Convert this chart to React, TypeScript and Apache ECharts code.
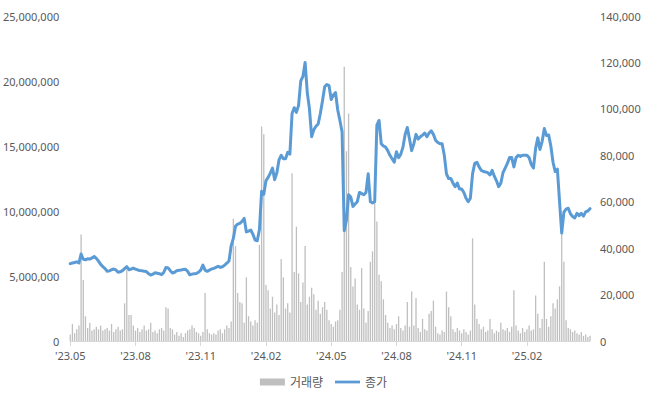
import React, { useEffect, useRef } from "react";
import * as echarts from "echarts";

// Monthly buckets, 10 samples per month (May 2023 – Apr 2025)
const months = [
  "23.05", "23.06", "23.07", "23.08", "23.09", "23.10", "23.11", "23.12",
  "24.01", "24.02", "24.03", "24.04", "24.05", "24.06", "24.07", "24.08",
  "24.09", "24.10", "24.11", "24.12", "25.01", "25.02", "25.03", "25.04",
];
const POINTS_PER_MONTH = 10;
const labelMonths = ["23.05", "23.08", "23.11", "24.02", "24.05", "24.08", "24.11", "25.02"];

// 종가 (closing price), thousands of won
const closeK = [
  33.3, 33.6, 33.8, 34.1, 33.6, 37.5, 35.2, 35.0, 35.4, 35.3,
  35.8, 36.4, 35.6, 34.4, 33.0, 32.0, 31.2, 30.0, 30.2, 30.7,
  31.0, 30.6, 29.6, 29.8, 30.3, 31.2, 32.0, 30.7, 31.0, 31.4,
  31.0, 30.6, 30.4, 30.3, 30.0, 29.9, 29.0, 28.4, 28.8, 29.4,
  29.2, 29.0, 28.6, 29.5, 31.7, 31.5, 30.3, 29.3, 29.6, 30.3,
  30.5, 30.6, 30.8, 30.9, 30.0, 28.5, 28.8, 29.0, 29.1, 29.6,
  30.5, 32.7, 30.5, 30.0, 30.5, 31.0, 31.3, 31.7, 32.2, 31.7,
  32.0, 32.7, 33.5, 34.5, 41.0, 44.2, 49.5, 50.3, 50.7, 51.5,
  52.8, 47.0, 47.3, 47.8, 46.0, 43.5, 43.2, 48.0, 64.5, 63.2,
  69.0, 70.5, 72.3, 74.5, 69.5, 72.5, 78.0, 80.0, 78.5, 78.5,
  81.3, 80.5, 98.0, 100.5, 98.5, 101.5, 112.0, 114.0, 120.0, 107.0,
  100.0, 88.0, 91.0, 92.5, 93.5, 98.0, 103.5, 109.5, 110.5, 110.0,
  104.0, 106.0, 107.0, 99.5, 95.0, 90.0, 47.5, 52.0, 63.0, 62.0,
  58.0, 59.0, 60.0, 64.0, 63.5, 63.0, 64.0, 72.0, 60.0, 59.5,
  60.0, 93.0, 95.0, 85.0, 84.0, 83.5, 82.0, 80.0, 78.5, 77.0,
  81.5, 79.0, 80.5, 83.5, 89.0, 92.0, 87.0, 82.0, 85.0, 89.0,
  87.0, 88.0, 88.7, 89.6, 88.0, 89.6, 90.5, 89.0, 86.5, 85.5,
  85.0, 85.0, 80.0, 72.0, 70.0, 70.0, 68.0, 66.5, 68.0, 65.5,
  65.5, 64.0, 61.5, 60.0, 61.5, 72.0, 76.5, 77.0, 75.0, 73.5,
  73.0, 72.8, 72.5, 71.5, 73.5, 71.0, 69.0, 66.5, 68.0, 72.5,
  74.5, 76.5, 79.0, 79.0, 75.0, 79.0, 80.0, 79.5, 80.0, 80.0,
  80.0, 79.0, 76.0, 74.5, 83.0, 87.5, 82.5, 86.0, 91.5, 88.5,
  88.7, 84.0, 77.0, 73.0, 74.0, 60.0, 46.5, 55.5, 56.8, 57.2,
  54.8, 53.6, 53.0, 55.0, 54.0, 55.0, 53.8, 55.6, 56.0, 57.0,
];

// 거래량 (volume), millions of shares
const volumeM = [
  0.5, 1.3, 0.6, 0.9, 1.2, 8.2, 4.7, 1.9, 1.0, 1.4,
  0.8, 0.9, 1.1, 0.9, 1.2, 0.8, 0.9, 1.0, 0.8, 1.3,
  0.7, 0.9, 1.1, 0.8, 0.9, 2.9, 5.5, 2.0, 2.0, 1.2,
  0.8, 1.0, 0.7, 0.9, 1.2, 0.8, 0.9, 1.4, 0.7, 0.8,
  0.6, 0.9, 1.0, 0.8, 2.6, 2.5, 1.0, 0.9, 0.5, 0.7,
  0.4, 0.6, 0.3, 0.6, 0.8, 0.9, 1.2, 1.0, 0.7, 0.6,
  0.4, 0.7, 3.7, 0.9, 0.6, 0.5, 0.6, 0.5, 0.8, 0.9,
  0.6, 0.9, 1.2, 1.0, 1.5, 9.4, 7.3, 3.7, 3.0, 2.9,
  1.4, 4.9, 1.9, 1.5, 1.2, 1.6, 1.4, 7.4, 16.5, 15.9,
  4.3, 3.9, 2.5, 3.4, 2.2, 2.8, 2.0, 6.3, 4.9, 2.5,
  2.9, 2.2, 12.9, 5.3, 8.8, 5.2, 3.0, 4.5, 7.3, 2.8,
  3.4, 4.1, 3.6, 2.4, 3.1, 2.1, 2.6, 3.0, 2.4, 1.6,
  1.3, 1.1, 1.5, 1.6, 2.4, 5.3, 21.1, 14.6, 17.5, 5.7,
  4.2, 4.8, 2.8, 2.4, 5.6, 2.5, 1.4, 2.3, 6.1, 6.9,
  10.6, 9.2, 5.1, 4.6, 3.2, 2.0, 1.4, 1.0, 1.2, 0.9,
  1.3, 1.9, 1.0, 0.8, 1.2, 3.0, 1.1, 3.8, 1.2, 3.3,
  1.0, 0.7, 1.7, 0.9, 0.8, 2.1, 2.3, 3.1, 1.1, 0.6,
  0.5, 0.8, 0.7, 3.8, 2.6, 1.9, 0.9, 0.7, 1.0, 0.8,
  0.6, 0.9, 0.7, 0.5, 0.8, 7.9, 2.8, 1.7, 1.3, 0.9,
  1.1, 0.7, 0.8, 1.7, 0.9, 0.6, 0.8, 0.7, 1.4, 0.9,
  0.8, 1.0, 0.7, 1.1, 3.9, 1.2, 0.8, 0.6, 1.0, 0.7,
  0.9, 1.2, 0.8, 0.9, 3.5, 2.1, 1.0, 1.7, 6.1, 1.7,
  1.1, 1.9, 2.9, 2.5, 3.2, 4.2, 8.3, 6.1, 1.6, 1.0,
  0.9, 0.7, 0.8, 0.6, 0.5, 0.7, 0.4, 0.5, 0.3, 0.4,
];

const VOLUME_MAX = 25000000;
const VOLUME_STEP = 5000000;
const PRICE_MAX = 140000;
const PRICE_STEP = 20000;

const TEXT = "#595959";
const FONT = "'Noto Sans', 'Noto Sans CJK KR', sans-serif";

export default function App() {
  const ref = useRef<HTMLDivElement>(null);

  useEffect(() => {
    document.body.style.margin = "0";
    if (!ref.current) return;
    const chart = echarts.init(ref.current, null, { renderer: "svg" });

    const categories = months.flatMap((m) =>
      Array.from({ length: POINTS_PER_MONTH }, (_, k) => `${m}|${k}`)
    );
    const isLabel = (_idx: number, value: string) => {
      const [m, k] = String(value).split("|");
      return k === "0" && labelMonths.includes(m);
    };
    const fmt = (v: number) => Math.round(v).toLocaleString("en-US");

    chart.setOption({
      animation: false,
      textStyle: { fontFamily: FONT },
      grid: { left: 68, right: 57, top: 16, bottom: 57, containLabel: false },
      legend: {
        bottom: 5,
        left: "center",
        itemWidth: 25,
        itemHeight: 7,
        itemGap: 12,
        textStyle: { color: TEXT, fontSize: 12, fontFamily: FONT },
        data: [
          { name: "거래량", icon: "rect" },
          { name: "종가", icon: "path://M0,0 L27,0 L27,3 L0,3 Z" },
        ],
      },
      xAxis: {
        type: "category",
        boundaryGap: false,
        data: categories,
        axisLine: { show: true, lineStyle: { color: "#D9D9D9", width: 1 } },
        axisTick: {
          show: true,
          interval: isLabel,
          length: 5,
          lineStyle: { color: "#D9D9D9" },
        },
        axisLabel: {
          interval: isLabel,
          formatter: (v: string) => "'" + String(v).split("|")[0],
          color: TEXT,
          fontSize: 11,
          margin: 9,
        },
        splitLine: { show: false },
      },
      yAxis: [
        {
          type: "value",
          min: 0,
          max: VOLUME_MAX,
          interval: VOLUME_STEP,
          axisLine: { show: false },
          axisTick: { show: false },
          splitLine: { show: false },
          axisLabel: { color: TEXT, fontSize: 11, margin: 11, formatter: fmt },
        },
        {
          type: "value",
          position: "right",
          min: 0,
          max: PRICE_MAX,
          interval: PRICE_STEP,
          axisLine: { show: false },
          axisTick: { show: false },
          splitLine: { show: false },
          axisLabel: { color: TEXT, fontSize: 11, margin: 10, formatter: fmt },
        },
      ],
      series: [
        {
          name: "거래량",
          type: "bar",
          yAxisIndex: 0,
          data: volumeM.map((v) => v * 1000000),
          barWidth: 1.3,
          itemStyle: { color: "#BFBFBF" },
          z: 1,
        },
        {
          name: "종가",
          type: "line",
          yAxisIndex: 1,
          data: closeK.map((v) => v * 1000),
          showSymbol: false,
          symbol: "none",
          lineStyle: { color: "#5B9BD5", width: 3, join: "round", cap: "round" },
          itemStyle: { color: "#5B9BD5" },
          z: 3,
        },
      ],
    });

    return () => chart.dispose();
  }, []);

  return <div ref={ref} style={{ width: 647, height: 398 }} />;
}
